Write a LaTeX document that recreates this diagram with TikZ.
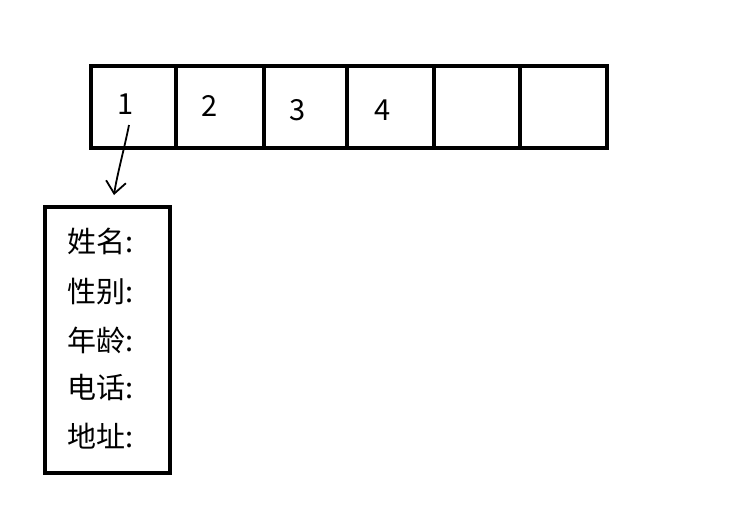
\documentclass[tikz,border=0pt]{standalone}
\usepackage{fontspec}
\setmainfont{Noto Sans CJK SC}
\usetikzlibrary{arrows.meta}
\begin{document}
\begin{tikzpicture}[x=1pt,y=-1pt,
  cell/.style={draw=black,line width=4pt,minimum height=82pt,inner sep=0pt,anchor=north west},
  digit/.style={font=\fontsize{29}{32}\selectfont,inner sep=0pt},
  field/.style={font=\fontsize{29}{32}\selectfont,inner sep=0pt,anchor=west},
  rec/.style={draw=black,line width=4pt,inner sep=0pt,minimum width=125pt,minimum height=266pt,anchor=north west},
  link/.style={line width=1.8pt,-{Straight Barb[length=12pt,width=20pt,line width=1.8pt]}}]
\useasboundingbox[fill=white] (0,0) rectangle (735,517);
\node[cell,minimum width=85pt] (c1) at (89,64) {};
\node[cell,minimum width=88pt] (c2) at (174,64) {};
\node[cell,minimum width=83pt] (c3) at (262,64) {};
\node[cell,minimum width=87pt] (c4) at (345,64) {};
\node[cell,minimum width=86pt] (c5) at (432,64) {};
\node[cell,minimum width=87pt] (c6) at (518,64) {};
\node[digit] (d1) at (126,104) {1};
\node[digit] (d2) at (210,106) {2};
\node[digit] (d3) at (298,110) {3};
\node[digit] (d4) at (383,110) {4};
\node[rec] (r) at (43,205) {};
\node[field] (f1) at (67,241) {姓名:};
\node[field] (f2) at (67,292) {性别:};
\node[field] (f3) at (67,340) {年龄:};
\node[field] (f4) at (67,387) {电话:};
\node[field] (f5) at (67,436) {地址:};
\coordinate (s) at (129,125);
\coordinate (e) at (114,195);
\draw[link] (s) .. controls (124,150) and (117,175) .. (e);
\end{tikzpicture}
\end{document}
